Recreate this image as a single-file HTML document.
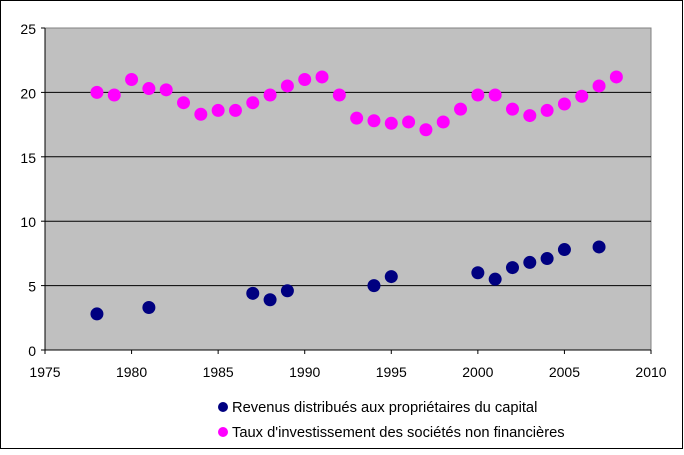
<!DOCTYPE html>
<html><head><meta charset="utf-8"><style>
body{margin:0;background:#fff;}
svg text{font-family:"Liberation Sans",Arial,sans-serif;font-size:14px;fill:#000;}
svg text.leg{font-size:14.7px;}
</style></head><body>
<svg id="chart" width="684" height="450" xmlns="http://www.w3.org/2000/svg">
<rect x="0.5" y="0.5" width="682" height="448" fill="#fff" stroke="#000"/>
<rect x="45" y="28" width="606" height="322" fill="#c0c0c0" stroke="#808080"/>
<g id="grid"></g><g id="axes"></g><g id="marks"></g>
<g>
<circle cx="223" cy="407" r="5" fill="#000080"/>
<text class="leg" x="232" y="412">Revenus distribués aux propriétaires du capital</text>
<circle cx="223" cy="432" r="5" fill="#ff00ff"/>
<text class="leg" x="232" y="437">Taux d'investissement des sociétés non financières</text>
</g>
</svg>
<script>
const xTicks=[1975,1980,1985,1990,1995,2000,2005,2010];
const yTicks=[0,5,10,15,20,25];
const tauxYears=[1978,1979,1980,1981,1982,1983,1984,1985,1986,1987,1988,1989,1990,1991,1992,1993,1994,1995,1996,1997,1998,1999,2000,2001,2002,2003,2004,2005,2006,2007,2008];
const tauxValues=[20.0,19.8,21.0,20.3,20.2,19.2,18.3,18.6,18.6,19.2,19.8,20.5,21.0,21.2,19.8,18.0,17.8,17.6,17.7,17.1,17.7,18.7,19.8,19.8,18.7,18.2,18.6,19.1,19.7,20.5,21.2];
const revYears=[1978,1981,1987,1988,1989,1994,1995,2000,2001,2002,2003,2004,2005,2007];
const revValues=[2.8,3.3,4.4,3.9,4.6,5.0,5.7,6.0,5.5,6.4,6.8,7.1,7.8,8.0];
const NS='http://www.w3.org/2000/svg';
const X=v=>45+(v-1975)*(606/35);
const Y=v=>350-v*(322/25);
function mk(tag,attrs,parent){const e=document.createElementNS(NS,tag);for(const k in attrs)e.setAttribute(k,attrs[k]);document.getElementById(parent).appendChild(e);return e;}
yTicks.forEach(t=>{
 if(t>0&&t<25){const l=mk('line',{x1:45,x2:651,y1:Y(t),y2:Y(t),stroke:'#000'},'grid');
 
 }
 const tk=mk('line',{x1:41,x2:45,y1:Y(t),y2:Y(t),stroke:'#000'},'axes');
 
 
 const tx=mk('text',{x:36,y:Y(t)+6,'text-anchor':'end'},'axes');tx.textContent=t;
 
 
});
xTicks.forEach(t=>{
 const tk=mk('line',{x1:X(t),x2:X(t),y1:350,y2:354,stroke:'#000'},'axes');
 
 
 const tx=mk('text',{x:X(t),y:377,'text-anchor':'middle'},'axes');tx.textContent=t;
 
 
});
const ax=mk('line',{x1:45,x2:651,y1:350,y2:350,stroke:'#000'},'axes');


const ay=mk('line',{x1:45,x2:45,y1:28,y2:350,stroke:'#000'},'axes');


tauxYears.forEach((yr,i)=>{const c=mk('circle',{cx:X(yr),cy:Y(tauxValues[i]),r:6.5,fill:'#ff00ff'},'marks');
 
 });
revYears.forEach((yr,i)=>{const c=mk('circle',{cx:X(yr),cy:Y(revValues[i]),r:6.5,fill:'#000080'},'marks');
 
 });
</script>
</body></html>
